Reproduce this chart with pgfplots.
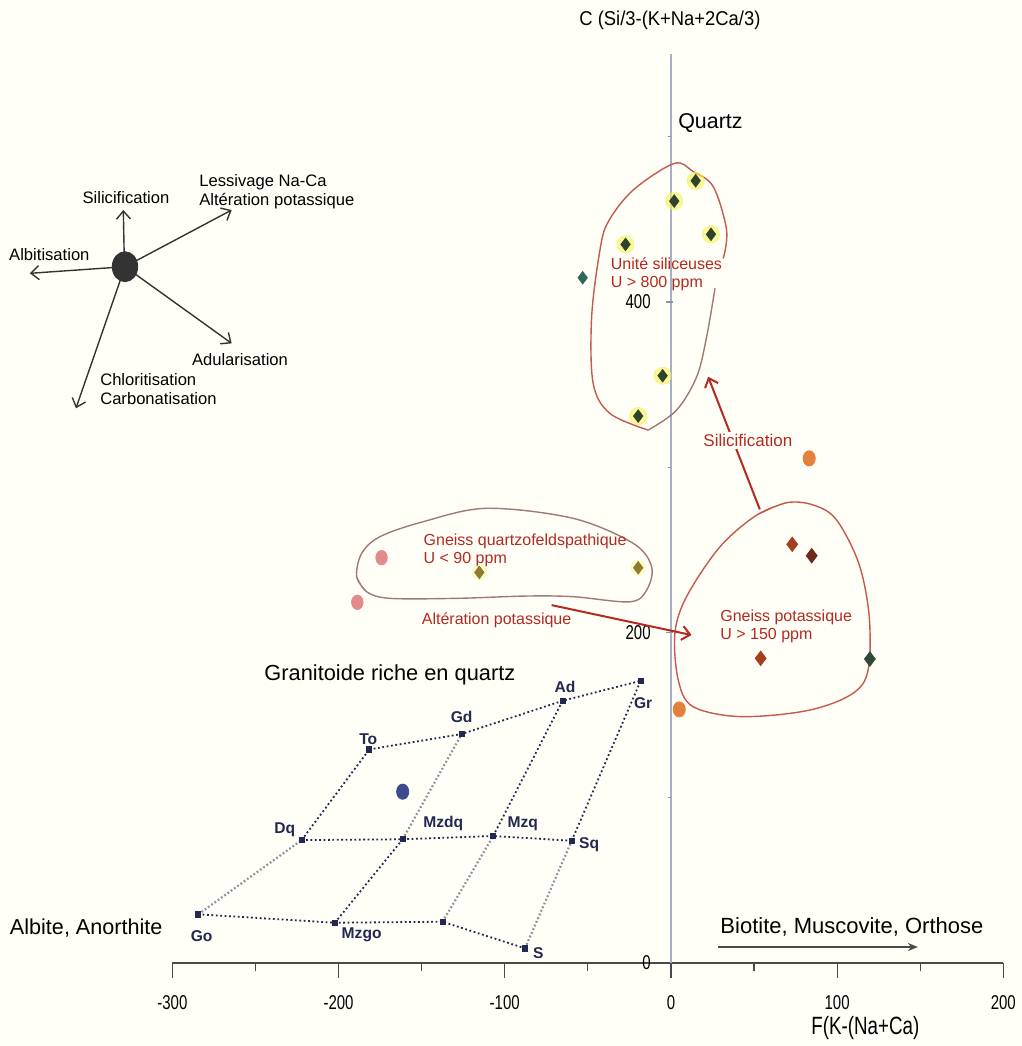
\documentclass[border=0pt]{standalone}
\usepackage{fontspec}
\setmainfont{Liberation Sans}
\usepackage{pgfplots}
\pgfplotsset{compat=1.18}
\usetikzlibrary{arrows.meta,backgrounds}

\definecolor{redtxt}{HTML}{B32A22}
\definecolor{contour}{HTML}{C25A4E}
\definecolor{contourgrey}{HTML}{A07A72}
\definecolor{navy}{HTML}{24274F}
\definecolor{gridgrey}{HTML}{8F909E}
\definecolor{axisgrey}{HTML}{4A4A4A}
\definecolor{yaxis}{HTML}{A9AEC6}
\definecolor{halo}{HTML}{F6F25A}
\definecolor{dkgreen}{HTML}{2F4329}
\definecolor{tealpt}{HTML}{2F6A58}
\definecolor{olivept}{HTML}{8E7A30}
\definecolor{pinkpt}{HTML}{E58A8A}
\definecolor{orangept}{HTML}{E3813C}
\definecolor{rust}{HTML}{A4401E}
\definecolor{darkrust}{HTML}{6E2A1C}
\definecolor{greenpt}{HTML}{2E4A3A}
\definecolor{bluept}{HTML}{3D4A8C}
\definecolor{compass}{HTML}{333333}
\definecolor{paper}{HTML}{FFFFF8}

\begin{document}
\begin{tikzpicture}[font=\fontsize{8.3}{9.5}\selectfont]
\begin{axis}[
  x=0.831pt, y=0.82625pt,
  xmin=-300, xmax=200, ymin=0, ymax=550,
  axis x line=bottom, axis y line=center,
  axis line style={-},
  x axis line style={draw=axisgrey, line width=0.6pt},
  y axis line style={draw=yaxis, line width=0.7pt},
  clip=false,
  xtick={-300,-200,...,200},
  minor xtick={-250,-150,...,150},
  tick align=outside,
  major tick length=7.5pt, minor tick length=4pt,
  x tick style={draw=axisgrey, line width=0.6pt},
  ytick={0,200,400},
  y tick style={draw=none},
  hide obscured x ticks=false, hide obscured y ticks=false,
  /pgf/number format/assume math mode=true,
  xticklabel style={font=\fontsize{10}{10}\selectfont, xscale=0.75, yshift=-5pt},
  yticklabel style={font=\fontsize{10}{10}\selectfont, xscale=0.75, anchor=east},
]

% page corners
\coordinate (BL) at (axis cs:-403.7,-50.2);
\coordinate (TR) at (axis cs:211.2,582.8);

% short y tick marks on the inner axis
\draw[gridgrey, line width=0.6pt] (axis cs:-3,200) -- (axis cs:1,200);
\draw[gridgrey, line width=0.6pt] (axis cs:-3,400) -- (axis cs:1,400);
\draw[gridgrey, line width=0.6pt] (axis cs:-2,100) -- (axis cs:0,100);
\draw[gridgrey, line width=0.6pt] (axis cs:-2,300) -- (axis cs:0,300);
\draw[gridgrey, line width=0.6pt] (axis cs:-2,500) -- (axis cs:0,500);

% ---------------- Debon & Le Fort reference grid ----------------
\pgfplotsset{gridline/.style={navy, line width=0.9pt, dash pattern=on 0.9pt off 1.3pt},
             gridlinegrey/.style={gridgrey, line width=1.1pt, dash pattern=on 0.9pt off 1.1pt}}
% rows
\addplot[gridline] coordinates {(-284.4,29.5) (-202.2,24.4) (-137.4,25.0) (-87.8,8.9)};
\addplot[gridline] coordinates {(-222.2,74.4) (-161.4,74.9) (-106.9,76.9) (-59.7,74.0)};
\addplot[gridline] coordinates {(-181.5,129.3) (-125.9,138.6) (-65.2,158.7) (-18.2,170.8)};
% columns
\addplot[gridlinegrey] coordinates {(-284.4,29.5) (-222.2,74.4)};
\addplot[gridline] coordinates {(-222.2,74.4) (-181.5,129.3)};
\addplot[gridline] coordinates {(-202.2,24.4) (-161.4,74.9)};
\addplot[gridlinegrey] coordinates {(-161.4,74.9) (-125.9,138.6)};
\addplot[gridlinegrey] coordinates {(-137.4,25.0) (-106.9,76.9)};
\addplot[gridline] coordinates {(-106.9,76.9) (-65.2,158.7)};
\addplot[gridlinegrey] coordinates {(-87.8,8.9) (-59.7,74.0)};
\addplot[gridline] coordinates {(-59.7,74.0) (-18.2,170.8)};
% grid nodes
\addplot[only marks, mark=square*, mark size=1.3pt, mark options={fill=navy, draw=navy}] coordinates {
  (-284.4,29.5) (-202.2,24.4) (-137.4,25.0) (-87.8,8.9)
  (-222.2,74.4) (-161.4,74.9) (-106.9,76.9) (-59.7,74.0)
  (-181.5,129.3) (-125.9,138.6) (-65.2,158.7) (-18.2,170.8)};

\begin{scope}[font=\bfseries\fontsize{7.8}{8}\selectfont, text=navy]
\node at (axis cs:-282.4,16.3) {Go};
\node at (axis cs:-186.1,16.9) {Mzgo};
\node at (axis cs:-79.8,5.9) {S};
\node at (axis cs:-232.3,80.5) {Dq};
\node at (axis cs:-137.0,84.5) {Mzdq};
\node at (axis cs:-89.2,84.5) {Mzq};
\node at (axis cs:-49.2,71.4) {Sq};
\node at (axis cs:-182.1,135.5) {To};
\node at (axis cs:-125.9,148.7) {Gd};
\node at (axis cs:-63.8,166.8) {Ad};
\node at (axis cs:-16.7,157.5) {Gr};
\end{scope}

% ---------------- outlined groups ----------------
\addplot[contour, line width=0.7pt, smooth, tension=0.55] coordinates {
  (-13.7,322.5) (-36.7,332.6) (-46.8,350.8) (-47.7,391.1) (-42.7,431.5) (-37.7,448.6)
  (-22.7,467.8) (2.0,483.9) (13.4,478.9) (25.5,469.8) (33.5,443.6) (31.5,426.4)};
\addplot[contourgrey, line width=0.7pt, smooth, tension=0.55] coordinates {
  (26.5,408.3) (21.5,379.0) (15.5,354.8) (3.4,334.6) (-13.7,322.5)};

\addplot[contourgrey, line width=0.7pt, smooth, tension=0.55] coordinates {
  (-183.1,224.7) (-189.1,233.8) (-186.1,247.9) (-175.1,258.0) (-149.0,267.1) (-110.9,275.2)
  (-58.8,269.1) (-22.7,254.0) (-11.6,239.8) (-14.6,225.7) (-24.7,218.6) (-58.8,221.7)
  (-86.8,222.1) (-128.9,220.7) (-169.1,220.7) (-183.1,224.7) (-189.1,233.8)};

\addplot[contour, line width=0.7pt, smooth, tension=0.55] coordinates {
  (69.6,278.6) (51.6,271.1) (29.5,251.9) (9.4,221.7) (2.4,199.5) (4.4,171.3) (13.4,155.1)
  (43.5,149.1) (87.7,154.1) (115.7,169.3) (119.7,203.5) (113.7,239.8) (99.7,268.1)
  (85.6,277.2) (69.6,278.6) (51.6,271.1)};

% ---------------- samples ----------------
% yellow glow behind the siliceous samples
\addplot[only marks, mark=*, mark size=4.3pt, opacity=0.6, mark options={fill=halo, draw=halo}] coordinates {
  (14.9,473.4) (2.0,461.1) (24.1,441.0) (-27.3,434.9) (-5.0,355.4) (-19.7,331.0)};
\addplot[only marks, mark=diamond*, mark size=3.1pt, mark options={fill=dkgreen, draw=dkgreen}] coordinates {
  (14.9,473.4) (2.0,461.1) (24.1,441.0) (-27.3,434.9) (-5.0,355.4) (-19.7,331.0)};
\addplot[only marks, mark=diamond*, mark size=3.1pt, mark options={fill=tealpt, draw=tealpt}] coordinates {
  (-53.1,414.7)};
% quartzofeldspathic gneiss
\addplot[only marks, mark=*, mark size=3.6pt, opacity=0.3, mark options={fill=halo, draw=halo}] coordinates {
  (-115.3,236.4) (-19.7,239.2)};
\addplot[only marks, mark=diamond*, mark size=3.1pt, mark options={fill=olivept, draw=olivept}] coordinates {
  (-115.3,236.4) (-19.7,239.2)};
\addplot[only marks, mark=*, mark size=3.6pt, mark options={xscale=0.8, fill=pinkpt, draw=pinkpt}] coordinates {
  (-174.1,245.3) (-188.7,218.3)};
% potassic gneiss
\addplot[only marks, mark=diamond*, mark size=3.6pt, mark options={fill=rust, draw=rust}] coordinates {
  (73.0,253.4) (54.0,184.4)};
\addplot[only marks, mark=diamond*, mark size=3.6pt, mark options={fill=darkrust, draw=darkrust}] coordinates {
  (84.7,246.5)};
\addplot[only marks, mark=diamond*, mark size=3.6pt, mark options={fill=greenpt, draw=greenpt}] coordinates {
  (119.7,184.0)};
\addplot[only marks, mark=*, mark size=3.8pt, mark options={xscale=0.8, fill=orangept, draw=orangept}] coordinates {
  (83.2,305.4) (5.0,153.5)};
% granitoid sample
\addplot[only marks, mark=*, mark size=3.8pt, mark options={xscale=0.8, fill=bluept, draw=bluept}] coordinates {
  (-161.4,103.7)};

% ---------------- red annotations ----------------
\draw[redtxt, line width=1pt, -{Straight Barb[length=4pt,width=7pt]}] (axis cs:53.5,274.5) -- (axis cs:22.4,354.8);
\node[fill=paper, inner sep=1pt, text=redtxt, font=\fontsize{8.5}{9}\selectfont] at (axis cs:46.3,316.1) {Silicification};
\draw[redtxt, line width=1pt, -{Straight Barb[length=4pt,width=7pt]}] (axis cs:-71.8,216.6) -- (axis cs:12.4,198.5);
\node[text=redtxt, font=\fontsize{8}{9}\selectfont] at (axis cs:-104.9,207.6) {Altération potassique};

\begin{scope}[text=redtxt, font=\fontsize{8}{9}\selectfont]
\node[anchor=west, align=left, inner sep=0pt] at (axis cs:-36.4,417.0) {Unité siliceuses\\U > 800 ppm};
\node[anchor=west, align=left, inner sep=0pt] at (axis cs:-149.0,249.9) {Gneiss quartzofeldspathique\\U < 90 ppm};
\node[anchor=west, align=left, inner sep=0pt] at (axis cs:29.5,203.9) {Gneiss potassique\\U > 150 ppm};
\end{scope}

% ---------------- end-member labels ----------------
\node[font=\fontsize{10}{11}\selectfont, xscale=0.92] at (axis cs:-0.6,570.6) {C (Si/3-(K+Na+2Ca/3)};
\node[anchor=west, inner sep=0pt, font=\fontsize{10.7}{11}\selectfont] at (axis cs:4.2,508.3) {Quartz};
\node[font=\fontsize{10.9}{11}\selectfont] at (axis cs:-169.1,174.3) {Granitoide riche en quartz};
\node[anchor=east, inner sep=0pt, font=\fontsize{10.8}{11}\selectfont] at (axis cs:-305.7,21.2) {Albite, Anorthite};
\node[font=\fontsize{11}{12}\selectfont] at (axis cs:108.9,21.8) {Biotite, Muscovite, Orthose};
\draw[axisgrey, line width=0.8pt, -{Stealth[length=5pt,width=4pt]}] (axis cs:28.3,9.7) -- (axis cs:148.6,9.7);
\node[font=\fontsize{12.5}{13}\selectfont, xscale=0.75] at (axis cs:117,-39.3) {F(K-(Na+Ca)};

% ---------------- alteration vectors ----------------
\begin{scope}[compass, line width=0.7pt, -{Straight Barb[length=4pt,width=7pt]}]
\draw (axis cs:-329,430) -- (axis cs:-329.5,455.7);
\draw (axis cs:-328.5,421.4) -- (axis cs:-385.7,417.4);
\draw (axis cs:-328.5,421.4) -- (axis cs:-264.3,455.7);
\draw (axis cs:-328.5,421.4) -- (axis cs:-264.3,375.0);
\draw (axis cs:-328.5,421.4) -- (axis cs:-358.0,335.7);
\end{scope}
\addplot[only marks, mark=*, mark size=7.5pt, mark options={xscale=0.85, fill=compass, draw=compass}] coordinates {(-328.5,421.4)};
\begin{scope}[font=\fontsize{8.3}{9.5}\selectfont, text=black]
\node at (axis cs:-327.9,463.5) {Silicification};
\node at (axis cs:-374.0,428.9) {Albitisation};
\node[anchor=west, align=left, inner sep=0pt] at (axis cs:-284.0,466.6) {Lessivage Na-Ca\\Altération potassique};
\node at (axis cs:-259.3,365.3) {Adularisation};
\node[anchor=west, align=left, inner sep=0pt] at (axis cs:-343.6,347.4) {Chloritisation\\Carbonatisation};
\end{scope}
\end{axis}
\pgfresetboundingbox
\path[use as bounding box] (BL) rectangle (TR);
\begin{scope}[on background layer]
\fill[paper] (BL) rectangle (TR);
\end{scope}
\end{tikzpicture}
\end{document}
